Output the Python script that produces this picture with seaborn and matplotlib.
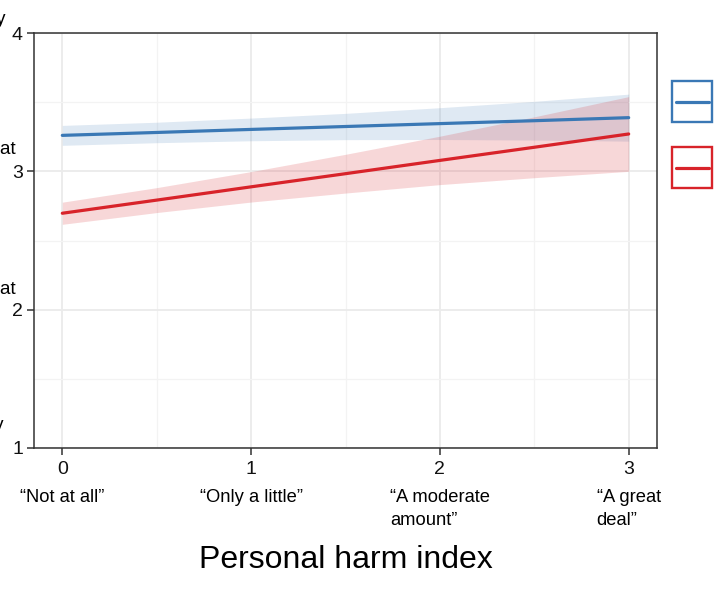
import numpy as np
import pandas as pd
import matplotlib
matplotlib.use('Agg')
import matplotlib.pyplot as plt
import seaborn as sns
from matplotlib.patches import Rectangle
from matplotlib.lines import Line2D

# values
harm = [0, 0.5, 1, 1.5, 2, 2.5, 3]
blue_fit = [3.260, 3.281, 3.303, 3.324, 3.345, 3.366, 3.388]
blue_lo = [3.188, 3.207, 3.221, 3.229, 3.230, 3.226, 3.218]
blue_hi = [3.332, 3.355, 3.385, 3.419, 3.460, 3.506, 3.558]
red_fit = [2.697, 2.792, 2.888, 2.983, 3.079, 3.174, 3.270]
red_lo = [2.617, 2.702, 2.778, 2.843, 2.904, 2.954, 3.000]
red_hi = [2.777, 2.882, 2.998, 3.123, 3.254, 3.394, 3.540]

groups = ['Group 1', 'Group 2']
x_ticks = [0, 1, 2, 3]
y_ticks = [1, 2, 3, 4]
harm_labels = ['\u201cNot at all\u201d', '\u201cOnly a little\u201d',
               '\u201cA moderate\namount\u201d', '\u201cA great\ndeal\u201d']

BLUE = '#3a78b5'
RED = '#d8232a'

df = pd.DataFrame({
    'harm': harm * 2,
    'fit': blue_fit + red_fit,
    'group': [groups[0]] * len(harm) + [groups[1]] * len(harm),
})

sns.set_theme(style='white')
plt.rcParams['font.family'] = ['Liberation Sans', 'DejaVu Sans']
plt.rcParams['text.color'] = 'black'

W, H = 720, 595
fig = plt.figure(figsize=(W / 100, H / 100), dpi=100)
ax = fig.add_axes([34 / W, 1 - 448 / H, (657 - 34) / W, (448 - 33) / H])

# confidence bands
ax.fill_between(harm, blue_lo, blue_hi, color=BLUE, alpha=0.16, lw=0, zorder=2)
ax.fill_between(harm, red_lo, red_hi, color=RED, alpha=0.18, lw=0, zorder=2)

sns.lineplot(data=df, x='harm', y='fit', hue='group', palette=[BLUE, RED],
             linewidth=2.3, legend=False, ax=ax, zorder=3)

ax.set_xlim(-0.15, 3.15)
ax.set_ylim(1, 4)
ax.set_xticks(x_ticks)
ax.set_yticks(y_ticks)
ax.set_xticks([0.5, 1.5, 2.5], minor=True)
ax.set_yticks([1.5, 2.5, 3.5], minor=True)
ax.grid(which='major', color='#ebebeb', linewidth=1.3, zorder=0)
ax.grid(which='minor', color='#f3f3f3', linewidth=0.9, zorder=0)
ax.set_axisbelow(True)
ax.set_xlabel('')
ax.set_ylabel('')
for s in ax.spines.values():
    s.set_color('#333333')
    s.set_linewidth(1.1)
ax.tick_params(which='major', direction='out', length=5, width=1.1, color='#333333',
               labelsize=14, labelcolor='#111111', left=True, bottom=True)
ax.tick_params(which='minor', length=0)
ax.tick_params(axis='x', pad=4)
ax.tick_params(axis='y', pad=3)

# verbal category labels under the numeric ticks
for xv, lab in zip(x_ticks, harm_labels):
    ax.text(xv, -0.098, lab, transform=ax.get_xaxis_transform(), ha='center', va='top',
            multialignment='left', fontsize=13.2, linespacing=1.5, color='black')

fig.text(345.5 / W, 1 - 560 / H, 'Personal harm index', ha='center', va='center',
         fontsize=23, color='black')

# clipped y-axis answer labels at the left edge
fig.text(6 / W, 1 - 20 / H, 'Very', ha='right', va='center', fontsize=13.5)
fig.text(16 / W, 1 - 150 / H, 'Somewhat', ha='right', va='center', fontsize=13.5)
fig.text(16 / W, 1 - 290 / H, 'Somewhat', ha='right', va='center', fontsize=13.5)
fig.text(4 / W, 1 - 425 / H, 'Very', ha='right', va='center', fontsize=13.5)

# legend keys (labels fall outside the crop)
for y0, col in [(81, BLUE), (147, RED)]:
    fig.add_artist(Rectangle((672 / W, 1 - (y0 + 41) / H), 40 / W, 41 / H,
                             transform=fig.transFigure, fill=False,
                             edgecolor=col, linewidth=1.7))
    fig.add_artist(Line2D([676 / W, 709 / W], [1 - (y0 + 20.5) / H] * 2,
                          transform=fig.transFigure, color=col, linewidth=2.3))

fig.savefig('out.png', dpi=100)
